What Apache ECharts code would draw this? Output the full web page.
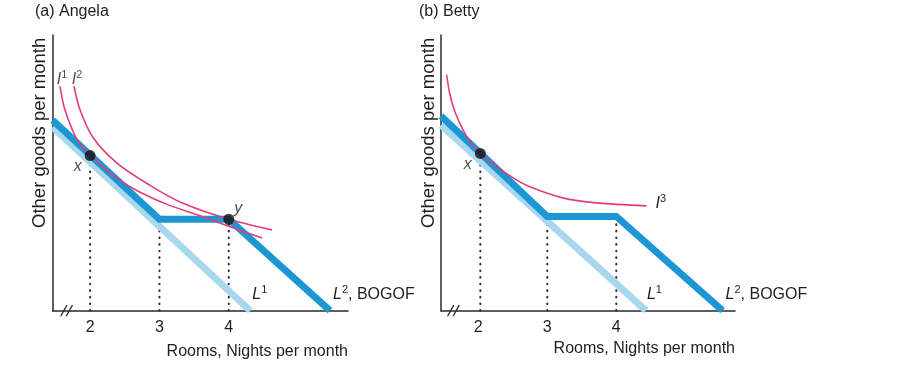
<!DOCTYPE html>
<html>
<head>
<meta charset="utf-8">
<script src="https://cdn.jsdelivr.net/npm/echarts@6/dist/echarts.min.js"></script>
<style>
html,body{margin:0;padding:0;background:#ffffff;}
#chart{width:907px;height:376px;}
</style>
</head>
<body>
<div id="chart"></div>
<script>
// ---- data (x: nights per month, y: other goods, arbitrary units) ----
const xMin = 1.46, xMax = 5.72, yMax = 3.98;
const tickValues = [2, 3, 4];

// (a) Angela
const angelaL1 = [[1.46, 2.65], [4.31, 0]];
const angelaL2 = [[1.46, 2.75], [3, 1.32], [4, 1.32], [5.46, 0]];
const angelaI1 = [[1.565, 3.24], [1.637, 2.90], [1.811, 2.47], [2.0, 2.24], [2.287, 1.99], [2.619, 1.765], [3.109, 1.535], [3.586, 1.370], [3.99, 1.222], [4.48, 1.049]];
const angelaI2 = [[1.767, 3.24], [1.854, 2.90], [2.042, 2.50], [2.388, 2.13], [2.864, 1.81], [3.34, 1.55], [4.0, 1.32], [4.625, 1.165]];
const angelaPoints = [[2.0, 2.24], [4, 1.32]];
const angelaPointNames = ['x', 'y'];
const angelaGuides = [[2.0, 2.24], [3, 1.32], [4, 1.32]];
const angelaBreak = 1.66;

// (b) Betty
const bettyL1 = [[1.46, 2.68], [4.43, 0]];
const bettyL2 = [[1.46, 2.81], [3, 1.36], [4, 1.36], [5.54, 0]];
const bettyI3 = [[1.542, 3.406], [1.59, 3.117], [1.662, 2.871], [1.778, 2.611], [1.894, 2.423], [2.03, 2.27], [2.269, 2.077], [2.529, 1.903], [2.746, 1.788], [3.223, 1.629], [3.714, 1.556], [4.437, 1.513]];
const bettyPoints = [[2.03, 2.27]];
const bettyPointNames = ['x'];
const bettyGuides = [[2.03, 2.27], [3, 1.36], [4, 1.36]];
const bettyBreak = 1.64;

// ---- styles ----
const FONT = '"Liberation Sans", Arial, Helvetica, sans-serif';
const DARK = '#1b98d3';
const LIGHT = '#a9d8ee';
const PINK = '#e23c7c';
const INK = '#1e1e1e';
const rich = {
  it: {fontFamily: FONT, fontSize: 16, fontStyle: 'italic', color: INK},
  n: {fontFamily: FONT, fontSize: 16, color: INK},
  sup: {fontFamily: FONT, fontSize: 11, color: INK, padding: [0, 0, 9, 0]}
};

const chart = echarts.init(document.getElementById('chart'), null, {renderer: 'canvas'});

function makeAxes(gi, namePadTop) {
  return {
    x: {
      type: 'value', gridIndex: gi, min: xMin, max: xMax,
      axisLine: {show: true, onZero: false, lineStyle: {color: '#2a2a2a', width: 1.5}},
      axisTick: {show: false}, splitLine: {show: false},
      axisLabel: {customValues: tickValues, margin: 9, fontSize: 16, fontFamily: FONT, color: INK},
      name: 'Rooms, Nights per month', nameLocation: 'end', nameGap: 0,
      nameTextStyle: {fontSize: 16, fontFamily: FONT, color: INK, align: 'right', verticalAlign: 'top', padding: [namePadTop, 0, 0, 0]}
    },
    y: {
      type: 'value', gridIndex: gi, min: 0, max: yMax,
      axisLine: {show: true, onZero: false, lineStyle: {color: '#2a2a2a', width: 1.5}},
      axisTick: {show: false}, splitLine: {show: false}, axisLabel: {show: false},
      name: 'Other goods per month', nameLocation: 'middle', nameGap: 3, nameRotate: 90,
      nameTextStyle: {fontSize: 18.5, fontFamily: FONT, color: INK, padding: [0, 0, 0, 80]}
    }
  };
}
const axA = makeAxes(0, 33), axB = makeAxes(1, 30);

function lineSeries(gi, data, color, width, z, extra) {
  return Object.assign({
    type: 'line', xAxisIndex: gi, yAxisIndex: gi, data: data, symbol: 'none',
    lineStyle: {color: color, width: width, cap: 'butt', join: 'miter'}, z: z, silent: true, animation: false
  }, extra || {});
}
function endLbl(main, sup, tail, offset) {
  return {endLabel: {show: true, formatter: '{it|' + main + '}{sup|' + sup + '}' + (tail ? '{n|' + tail + '}' : ''), rich: rich, offset: offset, distance: 5}};
}
function guideSeries(gi, guides) {
  return guides.map(g => lineSeries(gi, [[g[0], 0], [g[0], g[1]]], '#333333', 2, 3, {lineStyle: {color: '#333333', width: 2.1, type: [0.6, 6], cap: 'round'}}));
}
function breakSeries(gi, xb) {
  return [-0.04, 0.04].map(d => lineSeries(gi, [[xb + d - 0.045, -0.08], [xb + d + 0.045, 0.08]], '#2a2a2a', 1.3, 6, {clip: false}));
}
function pointSeries(gi, pts, names, offsets) {
  return {
    type: 'scatter', xAxisIndex: gi, yAxisIndex: gi, symbolSize: 11, z: 10, silent: true, animation: false,
    itemStyle: {color: '#111111'},
    data: pts.map((p, i) => ({value: p, label: {show: true, formatter: '{it|' + names[i] + '}', rich: rich,
      position: offsets[i].pos, distance: offsets[i].dist, offset: offsets[i].off}}))
  };
}
function curveLabel(gi, pt, main, sup, off) {
  return {
    type: 'scatter', xAxisIndex: gi, yAxisIndex: gi, symbolSize: 0, z: 10, silent: true, animation: false,
    data: [{value: pt, label: {show: true, position: 'top', distance: 2, offset: off,
      formatter: '{it|' + main + '}{sup|' + sup + '}', rich: rich}}]
  };
}

const series = [].concat(
  // Angela
  guideSeries(0, angelaGuides),
  [
    lineSeries(0, angelaL1, LIGHT, 7, 4, endLbl('L', '1', '', [-3, -16])),
    lineSeries(0, angelaL2, DARK, 7, 5, endLbl('L', '2', ', BOGOF', [-2, -16])),
    lineSeries(0, angelaI1, PINK, 1.6, 7, {smooth: 0.3}),
    lineSeries(0, angelaI2, PINK, 1.6, 7, {smooth: 0.3}),
    pointSeries(0, angelaPoints, angelaPointNames, [{pos: 'left', dist: 3, off: [0, 11]}, {pos: 'right', dist: 0, off: [0, -11]}]),
    curveLabel(0, angelaI1[0], 'I', '1', [2, 5]),
    curveLabel(0, angelaI2[0], 'I', '2', [3, 5])
  ],
  breakSeries(0, angelaBreak),
  // Betty
  guideSeries(1, bettyGuides),
  [
    lineSeries(1, bettyL1, LIGHT, 7, 4, endLbl('L', '1', '', [-4, -16])),
    lineSeries(1, bettyL2, DARK, 7, 5, endLbl('L', '2', ', BOGOF', [-2, -16])),
    lineSeries(1, bettyI3, PINK, 1.6, 7, Object.assign({smooth: 0.3}, endLbl('I', '3', '', [4, -2]))),
    pointSeries(1, bettyPoints, bettyPointNames, [{pos: 'left', dist: 3, off: [0, 11]}])
  ],
  breakSeries(1, bettyBreak)
);

chart.setOption({
  backgroundColor: '#ffffff',
  animation: false,
  title: [
    {text: '(a) Angela', left: 35, top: 4, padding: 0, textStyle: {fontSize: 16, fontWeight: 'normal', fontFamily: FONT, color: INK}},
    {text: '(b) Betty', left: 419, top: 4, padding: 0, textStyle: {fontSize: 16, fontWeight: 'normal', fontFamily: FONT, color: INK}}
  ],
  grid: [
    {left: 52.7, top: 35, width: 295.3, height: 275.7, containLabel: false},
    {left: 441, top: 35, width: 294, height: 275.7, containLabel: false}
  ],
  xAxis: [axA.x, axB.x],
  yAxis: [axA.y, axB.y],
  series: series
});
</script>
</body>
</html>
